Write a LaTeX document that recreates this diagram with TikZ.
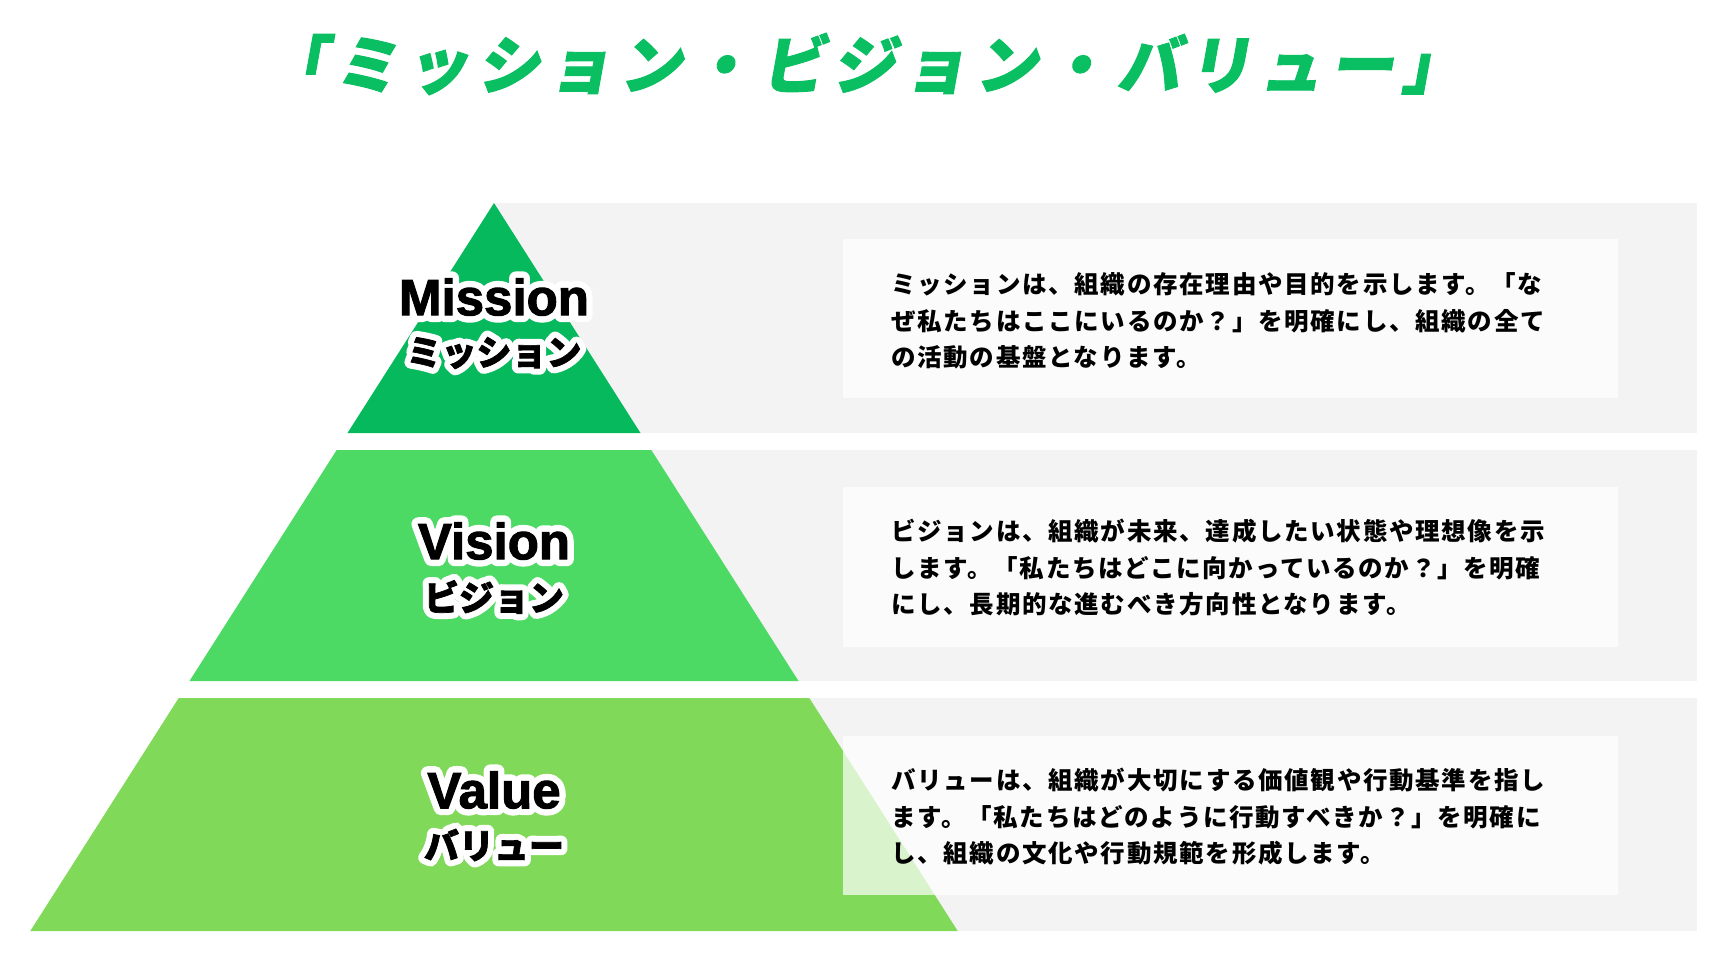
\documentclass[tikz,border=0pt]{standalone}
\usepackage{fontspec}
\newfontfamily\jpbody{Noto Sans CJK JP}[LetterSpace=7]
\newfontfamily\jplabel{Noto Sans CJK JP}[FakeBold=2]
\newfontfamily\jplabelhalo{Noto Sans CJK JP}[FakeBold=37]
\newfontfamily\jptitle{Noto Sans CJK JP}[FakeSlant=0.18, LetterSpace=12, FakeBold=1.5]
\newfontfamily\latlabel{Liberation Sans}[FakeBold=2]
\newfontfamily\latlabelhalo{Liberation Sans}[FakeBold=27]
\definecolor{titlegreen}{HTML}{0ABF62}
\definecolor{missiongreen}{HTML}{06B95D}
\definecolor{visiongreen}{HTML}{4CD964}
\definecolor{valuegreen}{HTML}{80D958}
\definecolor{bandgrey}{HTML}{F3F3F3}
\usetikzlibrary{calc}
\tikzset{
  band/.style={fill=bandgrey},
  descbox/.style={fill=white, fill opacity=0.7},
  desctext/.style={anchor=west, align=left, inner sep=0pt, text=black,
    font=\jpbody\bfseries\fontsize{24.5}{36.5}\selectfont},
  latname/.style={inner sep=0pt, text=black, font=\latlabel\bfseries\fontsize{51}{51}\selectfont},
  latnamehalo/.style={inner sep=0pt, text=white, line join=round, font=\latlabelhalo\bfseries\fontsize{51}{51}\selectfont},
  jpname/.style={inner sep=0pt, text=black, font=\jplabel\bfseries\fontsize{35}{35}\selectfont},
  jpnamehalo/.style={inner sep=0pt, text=white, line join=round, font=\jplabelhalo\bfseries\fontsize{35}{35}\selectfont},
}
\begin{document}
\begin{tikzpicture}[x=1pt, y=-1pt]
\useasboundingbox (0,0) rectangle (1728,972);
\fill[white] (0,0) rectangle (1728,972);

% title
\node[inner sep=0pt, text=titlegreen, font=\jptitle\bfseries\fontsize{63.5}{63.5}\selectfont] (title) at (864,64) {「ミッション・ビジョン・バリュー」};

% grey bands
\fill[band] (494,203) rectangle (1697,433);
\fill[band] (494,450) rectangle (1697,681);
\fill[band] (494,698) rectangle (1697,931);

% pyramid layers
\fill[missiongreen] (494,203) -- (640.5,433) -- (347.5,433) -- cycle;
\fill[visiongreen] (336.7,450) -- (651.3,450) -- (798.5,681) -- (189.5,681) -- cycle;
\fill[valuegreen] (178.7,698) -- (809.3,698) -- (957.7,931) -- (30.3,931) -- cycle;

% description boxes
\fill[descbox] (843,239) rectangle (1618,398);
\fill[descbox] (843,487) rectangle (1618,647);
\fill[descbox] (843,736) rectangle (1618,895);

% texts
\node[desctext] (t1) at (891,321) {ミッションは、組織の存在理由や目的を示します。「な\\ぜ私たちはここにいるのか？」を明確にし、組織の全て\\の活動の基盤となります。};
\node[desctext] (t2) at (891,568) {ビジョンは、組織が未来、達成したい状態や理想像を示\\します。「私たちはどこに向かっているのか？」を明確\\にし、長期的な進むべき方向性となります。};
\node[desctext] (t3) at (891,817) {バリューは、組織が大切にする価値観や行動基準を指し\\ます。「私たちはどのように行動すべきか？」を明確に\\し、組織の文化や行動規範を形成します。};

% labels (white halo under black text)
\node[latnamehalo] (missionh) at (494,297) {Mission};
\node[latname] (mission) at (494,297) {Mission};
\node[jpnamehalo] (missionjh) at (494,353) {ミッション};
\node[jpname] (missionj) at (494,353) {ミッション};
\node[latnamehalo] (visionh) at (494,541) {Vision};
\node[latname] (vision) at (494,541) {Vision};
\node[jpnamehalo] (visionjh) at (494,597) {ビジョン};
\node[jpname] (visionj) at (494,597) {ビジョン};
\node[latnamehalo] (valueh) at (494,790) {Value};
\node[latname] (value) at (494,790) {Value};
\node[jpnamehalo] (valuejh) at (494,845) {バリュー};
\node[jpname] (valuej) at (494,845) {バリュー};
\end{tikzpicture}
\end{document}
